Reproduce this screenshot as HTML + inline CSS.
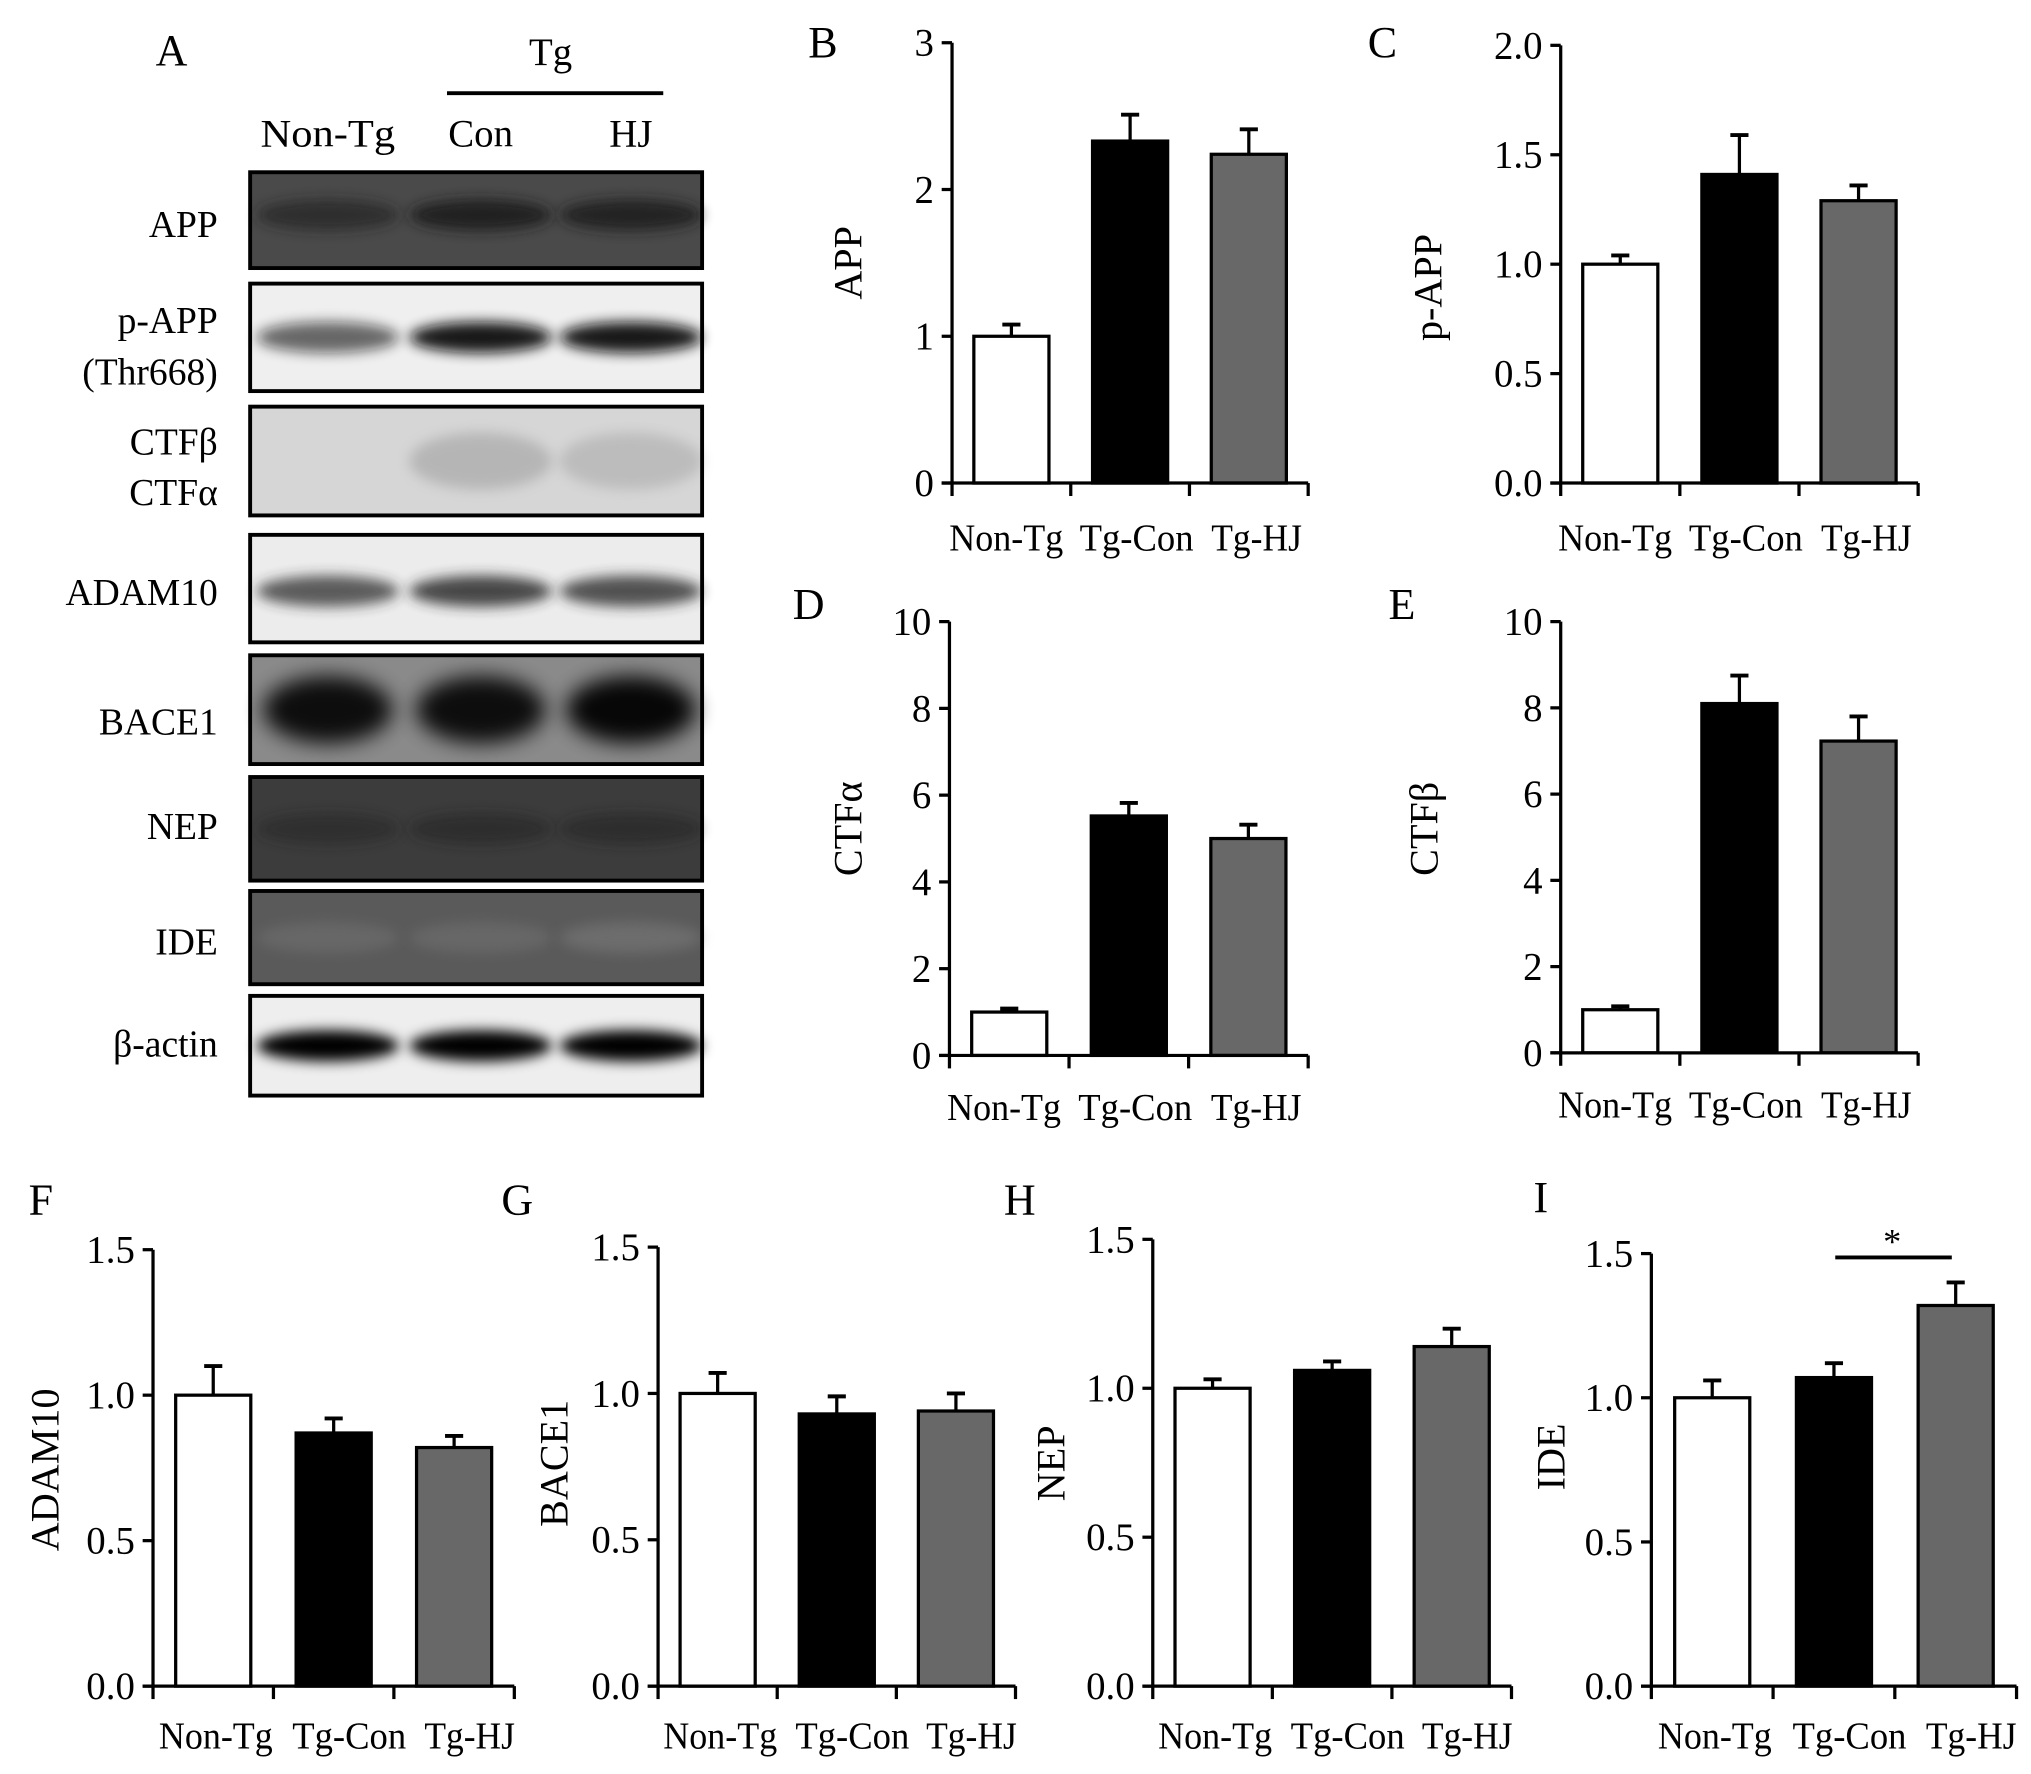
<!DOCTYPE html>
<html><head><meta charset="utf-8"><style>
html,body{margin:0;padding:0;background:#fff;}
svg, svg text{font-family:"Liberation Serif","Times New Roman",serif;}
</style></head><body>
<svg id="fig" width="2031" height="1769" viewBox="0 0 1568 1366" xmlns="http://www.w3.org/2000/svg" font-family="Liberation Serif, serif">
<defs>
<filter id="blur" x="-20%" y="-50%" width="140%" height="200%"><feGaussianBlur stdDeviation="5"/></filter>
<filter id="blur2" x="-20%" y="-50%" width="140%" height="200%"><feGaussianBlur stdDeviation="8"/></filter>
</defs>
<g id="panelA">
<text x="120" y="50" font-size="34">A</text>
<text x="425" y="50" font-size="30" text-anchor="middle">Tg</text>
<line x1="345" y1="72" x2="512" y2="72" stroke="#000" stroke-width="3"/>
<text x="253" y="113" font-size="30" text-anchor="middle" textLength="104" lengthAdjust="spacingAndGlyphs">Non-Tg</text>
<text x="371" y="113" font-size="30" text-anchor="middle">Con</text>
<text x="487" y="113" font-size="30" text-anchor="middle">HJ</text>
<g id="blots"></g>
</g>
<g id="charts"></g>
</svg>
<script>
const NS="http://www.w3.org/2000/svg";
const svg=document.getElementById('fig');
function mk(tag,attrs,parent,txt){const e=document.createElementNS(NS,tag);for(const k in attrs)e.setAttribute(k,attrs[k]);if(txt!==undefined)e.textContent=txt;(parent||svg).appendChild(e);return e;}

/* ---- data ---- */
const categories=["Non-Tg","Tg-Con","Tg-HJ"];
const appVals=[1.0,2.33,2.24];      const appErr=[0.08,0.18,0.17];
const pappVals=[1.0,1.41,1.29];     const pappErr=[0.04,0.18,0.07];
const ctfaVals=[1.0,5.52,5.0];      const ctfaErr=[0.08,0.3,0.32];
const ctfbVals=[1.0,8.1,7.23];      const ctfbErr=[0.08,0.65,0.57];
const adamVals=[1.0,0.87,0.82];     const adamErr=[0.1,0.05,0.04];
const baceVals=[1.0,0.93,0.94];     const baceErr=[0.07,0.06,0.06];
const nepVals=[1.0,1.06,1.14];      const nepErr=[0.03,0.03,0.06];
const ideVals=[1.0,1.07,1.32];      const ideErr=[0.06,0.05,0.08];
const ticksB=[0,1,2,3]; const ticksB_lbl=["0","1","2","3"];
const ticksC=[0,0.5,1,1.5,2]; const ticksC_lbl=["0.0","0.5","1.0","1.5","2.0"];
const ticksD=[0,2,4,6,8,10]; const ticksD_lbl=["0","2","4","6","8","10"];
const ticksF=[0,0.5,1,1.5]; const ticksF_lbl=["0.0","0.5","1.0","1.5"];
const blotNames=["APP","p-APP","CTF","ADAM10","BACE1","NEP","IDE","β-actin"];
const blotIntensity=[[0.6,0.9,0.85],[0.6,0.95,0.95],[0.0,0.35,0.28],[0.75,0.85,0.8],[0.9,0.9,0.95],[0.4,0.45,0.45],[0.35,0.35,0.5],[1,1,1]];

const fills=["#ffffff","#000000","#686868"];
const catLen=[88,88,70];

/* ---- blots ---- */
const blotG=document.getElementById('blots');
const blots=[
 {y:133,h:74,bg:"#4a4a4a",band:"#1e1e1e",labels:[["APP",183]]},
 {y:219,h:83,bg:"#efefef",band:"#111",labels:[["p-APP",257],["(Thr668)",297]]},
 {y:314,h:84,bg:"#d6d6d6",band:"#7a7a7a",labels:[["CTFβ",351],["CTFα",390]]},
 {y:413,h:83,bg:"#ececec",band:"#2a2a2a",labels:[["ADAM10",467]]},
 {y:506,h:84,bg:"#8a8a8a",band:"#000",labels:[["BACE1",567]]},
 {y:600,h:80,bg:"#3c3c3c",band:"#1a1a1a",labels:[["NEP",648]]},
 {y:688,h:72,bg:"#5a5a5a",band:"#808080",labels:[["IDE",737]]},
 {y:769,h:77,bg:"#eeeeee",band:"#000",labels:[["β-actin",816]]}];
const lanes=[253,371,487];
blots.forEach((b,i)=>{
  const g=mk('g',{},blotG);
  
  
  const r=mk('rect',{x:193,y:b.y,width:349,height:b.h,fill:b.bg},g);
  
  
  lanes.forEach((lx,j)=>{
    const inten=blotIntensity[i][j];
    if(inten<=0)return;
    const big=(i===4);
    const e=mk('ellipse',{cx:lx,cy:b.y+b.h/2+(i===3?2:0)-(i===0?4:0),rx:big?50:55,ry:big?26:(i===2?22:12),fill:b.band,opacity:inten,filter:big?'url(#blur2)':'url(#blur)'},g);
    
    
  });
  const o=mk('rect',{x:193,y:b.y,width:349,height:b.h,fill:'none',stroke:'#000','stroke-width':3},g);
  
  
  b.labels.forEach(l=>{
    const t=mk('text',{x:168,y:l[1],'font-size':29,'text-anchor':'end'},g,l[0]);
    
    
  });
});

/* ---- charts ---- */
const chartsG=document.getElementById('charts');
function chart(c){
  const g=mk('g',{},chartsG);
  
  
  const y=v=>c.y0-(v-c.ticks[0])/(c.ticks[c.ticks.length-1]-c.ticks[0])*(c.y0-c.y1);
  const x=i=>c.x0+c.w*(i+0.5)/3;
  const pl=mk('text',{x:c.plx,y:c.ply,'font-size':34},g,c.letter);
  
  
  c.vals.forEach((v,i)=>{
    const top=y(v), et=y(v+c.err[i]);
    const el=mk('line',{x1:x(i),x2:x(i),y1:top,y2:et,stroke:'#000','stroke-width':2.5},g);
    
    
    const cap=mk('line',{x1:x(i)-7,x2:x(i)+7,y1:et,y2:et,stroke:'#000','stroke-width':3},g);
    
    
    const r=mk('rect',{x:x(i)-29,y:top,width:58,height:c.y0-top,fill:fills[i],stroke:'#000','stroke-width':2.5},g);
    
    
  });
  const ya=mk('line',{x1:c.x0,x2:c.x0,y1:c.y1,y2:c.y0+1,stroke:'#000','stroke-width':2.5},g);
  
  
  const xa=mk('line',{x1:c.x0-8,x2:c.x0+c.w,y1:c.y0,y2:c.y0,stroke:'#000','stroke-width':2.5},g);
  
  
  for(let k=0;k<=3;k++){
    const tx=c.x0+c.w*k/3;
    const t=mk('line',{x1:tx,x2:tx,y1:c.y0,y2:c.y0+10,stroke:'#000','stroke-width':2.5},g);
    
    
  }
  c.ticks.forEach((tv,k)=>{
    const ty=y(tv);
    const t=mk('line',{x1:c.x0-8,x2:c.x0,y1:ty,y2:ty,stroke:'#000','stroke-width':2.5},g);
    
    
    const l=mk('text',{x:c.x0-14,y:ty+10,'font-size':30,'text-anchor':'end'},g,c.tickLbl[k]);
    
    
  });
  categories.forEach((cat,i)=>{
    const l=mk('text',{x:x(i)+c.off[i],y:c.y0+c.ly,'font-size':29,'text-anchor':'middle',textLength:catLen[i],lengthAdjust:'spacingAndGlyphs'},g,cat);
    
    
  });
  const yt=mk('text',{x:0,y:0,'font-size':31,'text-anchor':'middle',transform:`translate(${c.ylx},${c.yly}) rotate(-90)`},g,c.ylabel);
  
  
  return {g,y,x};
}
const topOff=[-4,5,6], botOff=[2,12,12];
chart({id:'b',letter:'B',plx:624,ply:44,x0:735,w:275,y0:373,y1:33,ticks:ticksB,tickLbl:ticksB_lbl,vals:appVals,err:appErr,ylabel:'APP',ylx:665,yly:203,off:topOff,ly:52});
chart({id:'c',letter:'C',plx:1056,ply:44,x0:1205,w:276,y0:373,y1:35,ticks:ticksC,tickLbl:ticksC_lbl,vals:pappVals,err:pappErr,ylabel:'p-APP',ylx:1113,yly:222,off:topOff,ly:52});
chart({id:'d',letter:'D',plx:612,ply:478,x0:733,w:277,y0:815,y1:480,ticks:ticksD,tickLbl:ticksD_lbl,vals:ctfaVals,err:ctfaErr,ylabel:'CTFα',ylx:665,yly:640,off:topOff,ly:50});
chart({id:'e',letter:'E',plx:1072,ply:478,x0:1205,w:276,y0:813,y1:480,ticks:ticksD,tickLbl:ticksD_lbl,vals:ctfbVals,err:ctfbErr,ylabel:'CTFβ',ylx:1110,yly:640,off:topOff,ly:50});
chart({id:'f',letter:'F',plx:22,ply:938,x0:118,w:279,y0:1302,y1:965,ticks:ticksF,tickLbl:ticksF_lbl,vals:adamVals,err:adamErr,ylabel:'ADAM10',ylx:45,yly:1135,off:botOff,ly:48});
chart({id:'g',letter:'G',plx:387,ply:938,x0:508,w:276,y0:1302,y1:963,ticks:ticksF,tickLbl:ticksF_lbl,vals:baceVals,err:baceErr,ylabel:'BACE1',ylx:438,yly:1130,off:botOff,ly:48});
chart({id:'h',letter:'H',plx:775,ply:938,x0:890,w:277,y0:1302,y1:957,ticks:ticksF,tickLbl:ticksF_lbl,vals:nepVals,err:nepErr,ylabel:'NEP',ylx:822,yly:1130,off:botOff,ly:48});
const ci=chart({id:'i',letter:'I',plx:1184,ply:936,x0:1275,w:282,y0:1302,y1:968,ticks:ticksF,tickLbl:ticksF_lbl,vals:ideVals,err:ideErr,ylabel:'IDE',ylx:1208,yly:1125,off:botOff,ly:48});
const sig=mk('line',{x1:1417,x2:1507,y1:971,y2:971,stroke:'#000','stroke-width':3},ci.g);


const star=mk('text',{x:1461,y:968,'font-size':28,'text-anchor':'middle'},ci.g,'*');


</script>
</body></html>
